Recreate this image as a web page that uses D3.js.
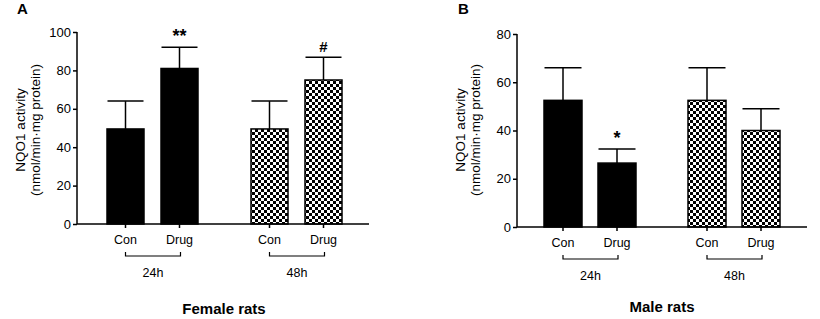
<!DOCTYPE html>
<html>
<head>
<meta charset="utf-8">
<script src="https://cdn.jsdelivr.net/npm/d3@7"></script>
<style>
  body { margin: 0; background: #fff; }
  text { font-family: "Liberation Sans", Arial, sans-serif; fill: #000; }
</style>
</head>
<body>
<div id="container"></div>
<script>
// data
const groups = ["Con", "Drug", "Con", "Drug"]
const times = ["24h", "48h"]
const femaleMeans = [49.5, 81, 49.5, 75]
const femaleErr = [14.5, 11, 14.5, 11.8]
const femaleMarks = ["", "**", "", "#"]
const maleMeans = [52.5, 26.5, 52.5, 40]
const maleErr = [13.5, 5.8, 13.5, 9]
const maleMarks = ["", "*", "", ""]
const femaleTicks = [0, 20, 40, 60, 80, 100]
const maleTicks = [0, 20, 40, 60, 80]

const width = 820, height = 319

const svg = d3.select("#container").append("svg")
  .attr("width", width).attr("height", height)

// checkerboard
const defs = svg.append("defs")
const pat = defs.append("pattern").attr("id", "checks")
  .attr("patternUnits", "userSpaceOnUse").attr("width", 6).attr("height", 6)
pat.append("rect").attr("width", 6).attr("height", 6).attr("fill", "#fff")
pat.append("rect").attr("width", 3).attr("height", 3).attr("fill", "#000")
pat.append("rect").attr("x", 3).attr("y", 3).attr("width", 3).attr("height", 3).attr("fill", "#000")

function panel(opt) {
  const g = svg.append("g")
  const y = d3.scaleLinear().domain([0, opt.max]).range([opt.y0, opt.y1])

  // bars
  g.selectAll("rect.bar").data(opt.means).join("rect")
    .attr("class", "bar")
    .attr("x", (d, i) => opt.barX[i])
    .attr("y", d => y(d))
    .attr("width", opt.bw)
    .attr("height", d => y(0) - y(d))
    .attr("fill", (d, i) => i < 2 ? "#000" : "url(#checks)")
    .attr("stroke", "#000").attr("stroke-width", 1.5)

  // error bars
  opt.means.forEach((m, i) => {
    const cx = opt.barX[i] + opt.bw / 2
    const top = y(m + opt.err[i])
    g.append("line").attr("x1", cx).attr("x2", cx).attr("y1", y(m)).attr("y2", top)
      .attr("stroke", "#000").attr("stroke-width", 1.5)
    g.append("line").attr("x1", cx - opt.bw / 2 + 0.5).attr("x2", cx + opt.bw / 2 - 0.5)
      .attr("y1", top).attr("y2", top)
      .attr("stroke", "#000").attr("stroke-width", 1.5)
    if (opt.marks[i]) {
      g.append("text").attr("x", cx).attr("y", top - 5)
        .attr("text-anchor", "middle").attr("font-size", opt.marks[i] == "#" ? 15 : 18)
        .attr("font-weight", "bold")
        .text(opt.marks[i])
    }
  })

  // y axis
  const yAxis = g.append("g").attr("transform", `translate(${opt.x0},0)`)
    .call(d3.axisLeft(y).tickValues(opt.ticks).tickSize(4).tickPadding(2))
  yAxis.selectAll("text").attr("font-size", 13).style("font-family", "Liberation Sans, Arial, sans-serif")
  yAxis.selectAll("line, path").attr("stroke", "#000").attr("stroke-width", 1.5)
  yAxis.select("path").attr("d", `M0,${opt.y0}V${opt.y1}`)

  // x axis
  g.append("line").attr("x1", opt.x0).attr("x2", opt.xEnd).attr("y1", y(0)).attr("y2", y(0))
    .attr("stroke", "#000").attr("stroke-width", 1.5)
  opt.barX.forEach((bx, i) => {
    const cx = bx + opt.bw / 2
    g.append("line").attr("x1", cx).attr("x2", cx).attr("y1", y(0)).attr("y2", y(0) + 4)
      .attr("stroke", "#000").attr("stroke-width", 1.5)
    g.append("text").attr("x", cx).attr("y", y(0) + 20)
      .attr("text-anchor", "middle").attr("font-size", 12.5).text(groups[i])
  })

  // brackets
  times.forEach((t, k) => {
    const a = opt.barX[k * 2] + opt.bw / 2
    const b = opt.barX[k * 2 + 1] + opt.bw / 2 + 1
    const by = y(0) + 32
    g.append("path").attr("d", `M${a},${by - 4}V${by}H${b}V${by - 4}`)
      .attr("fill", "none").attr("stroke", "#000").attr("stroke-width", 1.2)
    g.append("text").attr("x", (a + b) / 2).attr("y", by + 21)
      .attr("text-anchor", "middle").attr("font-size", 12.5).text(t)
  })

  // y title
  const ty = g.append("text").attr("transform", `translate(${opt.titleX},${opt.titleY}) rotate(-90)`)
    .attr("text-anchor", "middle").attr("font-size", 13.5)
  ty.append("tspan").attr("x", 0).attr("dy", 0).text("NQO1 activity")
  ty.append("tspan").attr("x", 0).attr("dy", 15).text("(nmol/min·mg protein)")

  g.append("text").attr("x", opt.labelX).attr("y", 14).attr("font-size", 15)
    .attr("font-weight", "bold").text(opt.label)

  g.append("text").attr("x", opt.footX).attr("y", opt.footY).attr("text-anchor", "middle")
    .attr("font-size", 15).attr("font-weight", "bold").text(opt.foot)
}

panel({
  means: femaleMeans, err: femaleErr, marks: femaleMarks, ticks: femaleTicks, max: 100,
  y0: 224, y1: 32, x0: 77, x1: 369, xEnd: 369, bw: 37,
  barX: [107, 161, 251, 305],
  titleX: 25, titleY: 130, label: "A", labelX: 17,
  foot: "Female rats", footX: 224, footY: 314
})

panel({
  means: maleMeans, err: maleErr, marks: maleMarks, ticks: maleTicks, max: 80,
  y0: 227, y1: 34, x0: 517, x1: 807, xEnd: 807, bw: 38,
  barX: [544, 598, 688, 742],
  titleX: 465, titleY: 130, label: "B", labelX: 458,
  foot: "Male rats", footX: 662, footY: 312
})
</script>
</body>
</html>
